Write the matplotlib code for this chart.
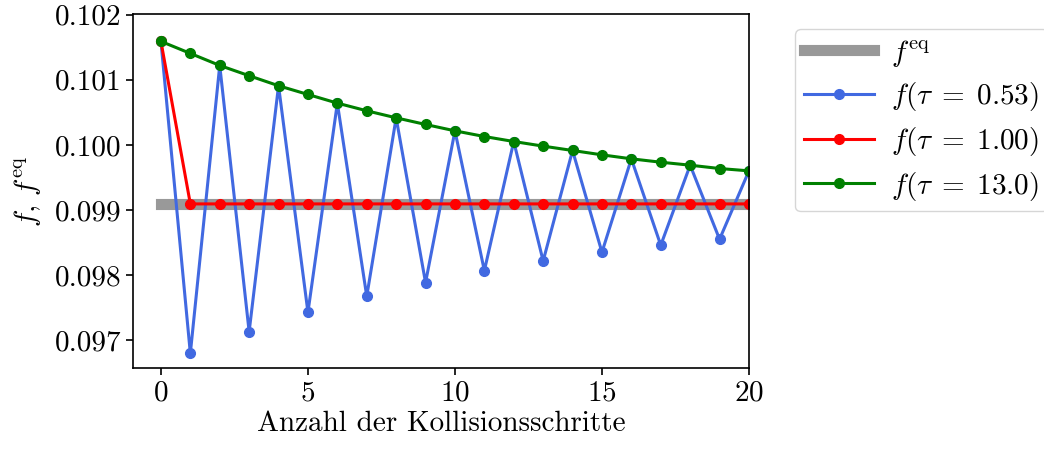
import numpy as np
import matplotlib
matplotlib.use("Agg")
import matplotlib.pyplot as plt

plt.rcParams['font.family'] = 'serif'
plt.rcParams['font.serif'] = ['cmr10', 'DejaVu Serif']
plt.rcParams['mathtext.fontset'] = 'cm'
plt.rcParams['axes.formatter.use_mathtext'] = True
plt.rcParams['axes.unicode_minus'] = False

# collision steps
steps = list(range(21))

# equilibrium value
f_eq = 0.099092

# tau = 13.0 (slow relaxation)
f_tau_13 = [0.101590, 0.101405, 0.101220, 0.101062, 0.100908, 0.100774,
            0.100641, 0.100523, 0.100415, 0.100313, 0.100215, 0.100128,
            0.100051, 0.099980, 0.099913, 0.099846, 0.099785, 0.099733,
            0.099687, 0.099636, 0.099600]

# tau = 0.53 (over-relaxation, oscillating)
f_tau_053 = [0.101590, 0.096795, 0.101220, 0.097128, 0.100908, 0.097426,
             0.100641, 0.097672, 0.100415, 0.097882, 0.100215, 0.098066,
             0.100051, 0.098215, 0.099913, 0.098349, 0.099785, 0.098457,
             0.099687, 0.098549, 0.099600]

# tau = 1.00 (jumps straight to equilibrium)
f_tau_1 = [0.101590] + [f_eq] * 20

fig, ax = plt.subplots(figsize=(10.44, 4.53), dpi=100)
fig.subplots_adjust(left=0.1274, right=0.7174, top=0.969, bottom=0.1876)

ax.plot(steps, [f_eq] * len(steps), color='#999999', lw=8,
        solid_capstyle='projecting', label=r'$f^{\mathrm{eq}}$')
ax.plot(steps, f_tau_053, color='royalblue', lw=2.2, marker='o', ms=7,
        label=r'$f(\tau\;=\;0.53)$')
ax.plot(steps, f_tau_1, color='red', lw=2.2, marker='o', ms=7,
        label=r'$f(\tau\;=\;1.00)$')
ax.plot(steps, f_tau_13, color='green', lw=2.2, marker='o', ms=7,
        label=r'$f(\tau\;=\;13.0)$')

ax.set_xlim(-0.95, 20)
ax.set_ylim(0.09657, 0.10201)
ax.set_xticks([0, 5, 10, 15, 20])
ax.set_yticks([0.097, 0.098, 0.099, 0.100, 0.101, 0.102])
ax.set_yticklabels(['0.097', '0.098', '0.099', '0.100', '0.101', '0.102'])
ax.tick_params(labelsize=21, length=5, width=1.2)
for s in ax.spines.values():
    s.set_linewidth(1.2)

ax.set_xlabel('Anzahl der Kollisionsschritte', fontsize=21, labelpad=3)
ax.set_ylabel(r'$f,\,f^{\mathrm{eq}}$', fontsize=21, labelpad=8)

ax.legend(loc='upper left', bbox_to_anchor=(1.0747, 0.958), borderaxespad=0,
          fontsize=21, handlelength=2.4, handletextpad=0.6, borderpad=0.3,
          labelspacing=0.4)

fig.savefig('out.png')
